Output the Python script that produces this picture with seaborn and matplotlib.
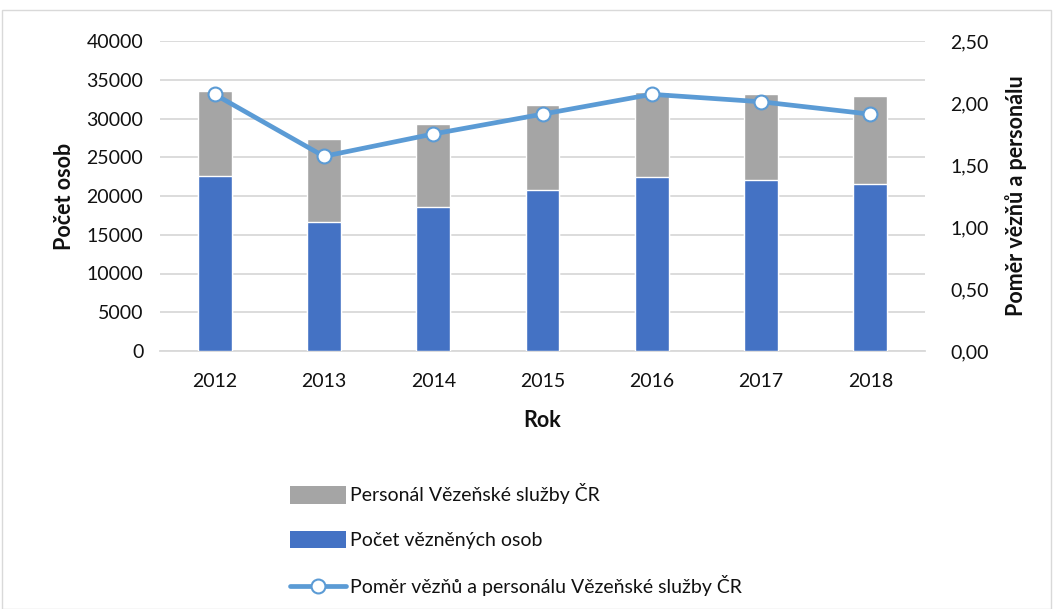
import numpy as np
import matplotlib
matplotlib.use("Agg")
import matplotlib.pyplot as plt
import seaborn as sns
from matplotlib.patches import Patch, Rectangle
from matplotlib.lines import Line2D

# values
years = ["2012", "2013", "2014", "2015", "2016", "2017", "2018"]
prisoners = [22620, 16690, 18620, 20810, 22490, 22110, 21590]
staff = [10970, 10630, 10710, 10970, 10930, 11090, 11310]
ratio = [2.07, 1.57, 1.75, 1.91, 2.07, 2.01, 1.91]

label_staff = "Personál Vězeňské služby ČR"
label_prisoners = "Počet vězněných osob"
label_ratio = "Poměr vězňů a personálu Vězeňské služby ČR"

sns.set_style("white")
plt.rcParams['font.family'] = ['Lato', 'DejaVu Sans']

gray = "#A5A5A5"
blue = "#4472C4"
line_blue = "#5B9BD5"
txt = "#111111"

fig = plt.figure(figsize=(10.53, 6.09), dpi=100)
ax = fig.add_axes([160 / 1053, 1 - 351 / 609, 765 / 1053, 310 / 609])

total = [p + s for p, s in zip(prisoners, staff)]
sns.barplot(x=years, y=total, color=gray, width=0.31, saturation=1, ax=ax, zorder=2)
sns.barplot(x=years, y=prisoners, color=blue, width=0.31, saturation=1, ax=ax, zorder=3)

ax.set_ylim(0, 40000)
ax.set_yticks(range(0, 40001, 5000))
ax.set_xlim(-0.5, len(years) - 0.5)
ax.yaxis.grid(True, color="#D9D9D9", linewidth=1.3, zorder=0)
ax.set_axisbelow(True)
for s in ["top", "right", "left"]:
    ax.spines[s].set_visible(False)
ax.spines["bottom"].set_color("#D9D9D9")
ax.spines["bottom"].set_linewidth(1.3)
ax.tick_params(axis="y", length=0, labelsize=14, colors=txt, pad=12)
ax.tick_params(axis="x", length=0, labelsize=14, colors=txt, pad=16)
ax.set_xlabel("Rok", fontsize=15.5, fontweight="bold", labelpad=14, color=txt)
ax.set_ylabel("Počet osob", fontsize=15.5, fontweight="bold", labelpad=8, color=txt)

ax2 = ax.twinx()
x_pos = np.arange(len(years))
ax2.plot(x_pos, ratio, color=line_blue, linewidth=3.4, marker="o", markersize=10,
         markerfacecolor="white", markeredgecolor=line_blue, markeredgewidth=1.5, zorder=5)
ax2.set_ylim(0, 2.5)
ax2.set_yticks(np.arange(0, 2.51, 0.5))
ax2.set_yticklabels([f"{v:.2f}".replace(".", ",") for v in np.arange(0, 2.51, 0.5)])
for s in ["top", "right", "left", "bottom"]:
    ax2.spines[s].set_visible(False)
ax2.tick_params(axis="y", length=0, labelsize=14, colors=txt, pad=18)
ax2.set_ylabel("Poměr vězňů a personálu", fontsize=15.5, fontweight="bold", labelpad=12, color=txt)

handles = [
    Patch(facecolor=gray, edgecolor="none"),
    Patch(facecolor=blue, edgecolor="none"),
    Line2D([0], [0], color=line_blue, linewidth=3.4, marker="o", markersize=10,
           markerfacecolor="white", markeredgecolor=line_blue, markeredgewidth=1.5),
]
fig.legend(handles, [label_staff, label_prisoners, label_ratio],
           loc="upper left", bbox_to_anchor=(272 / 1053, 1 - 466 / 609),
           frameon=False, fontsize=14, labelspacing=1.35, handlelength=2.9,
           handleheight=1.0, handletextpad=0.2, labelcolor=txt)

fig.patches.append(Rectangle((2 / 1053, 0), 1 - 4 / 1053, 1 - 10 / 609,
                             transform=fig.transFigure, fill=False,
                             edgecolor="#D9D9D9", linewidth=1))

fig.savefig("out.png", dpi=100)
